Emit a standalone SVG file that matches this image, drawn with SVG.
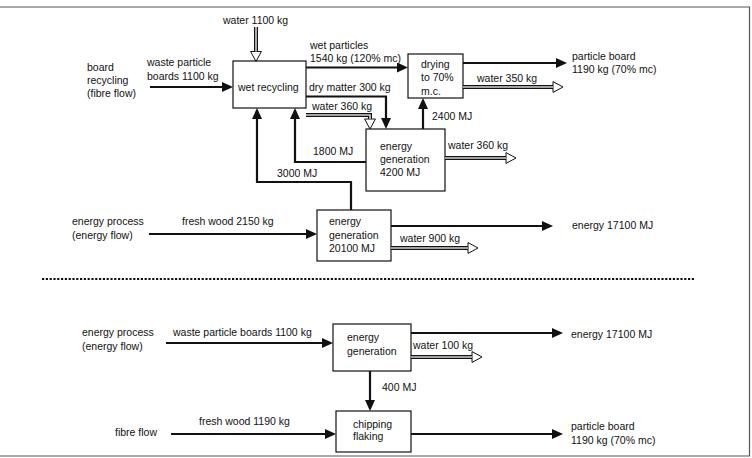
<svg xmlns="http://www.w3.org/2000/svg" width="752" height="458" viewBox="0 0 752 458">
<style>
text{font-family:"Liberation Sans",Arial,sans-serif;font-size:10.5px;fill:#111}
.box{fill:#fff;stroke:#111;stroke-width:1.2}
.flow{fill:none;stroke:#111;stroke-width:2.2;marker-end:url(#ah)}
.wout{fill:none;stroke:#111;stroke-width:4;marker-end:url(#hh)}
.win{fill:none;stroke:#d4d4d4;stroke-width:1.6}
.frame{fill:none;stroke:#555;stroke-width:1.2}
</style>
<defs>
<marker id="ah" markerUnits="userSpaceOnUse" viewBox="0 0 11 10" markerWidth="11" markerHeight="10" refX="8" refY="5" orient="auto"><path d="M0,0 L11,5 L0,10 z" fill="#111"/></marker>
<marker id="hh" markerUnits="userSpaceOnUse" viewBox="0 0 12 12" markerWidth="12" markerHeight="12" refX="1" refY="6" orient="auto"><path d="M1,0.6 L11,6 L1,11.4 z" fill="#fff" stroke="#111" stroke-width="1"/></marker>
</defs>
<rect width="752" height="458" fill="#fff"/>
<path class="frame" d="M0,7 H749.5 V456 H0"/>
<line x1="42" y1="279" x2="695" y2="279" stroke="#111" stroke-width="2" stroke-dasharray="2.2 1.6"/>

<g id="labels">
<text x="223" y="24">water 1100 kg</text>
<text x="87" y="71">board</text>
<text x="87" y="84">recycling</text>
<text x="87" y="97">(fibre flow)</text>
<text x="147" y="66">waste particle</text>
<text x="147" y="79.5">boards 1100 kg</text>
<text x="310" y="49">wet particles</text>
<text x="310" y="61.5">1540 kg (120% mc)</text>
<text x="309" y="90.5">dry matter 300 kg</text>
<text x="312" y="110">water 360 kg</text>
<text x="432" y="119.5">2400 MJ</text>
<text x="477" y="82">water 350 kg</text>
<text x="572" y="59.5">particle board</text>
<text x="572" y="73">1190 kg (70% mc)</text>
<text x="448" y="148.5">water 360 kg</text>
<text x="313" y="155">1800 MJ</text>
<text x="277" y="177">3000 MJ</text>
<text x="72" y="225">energy process</text>
<text x="72" y="238.5">(energy flow)</text>
<text x="182" y="225">fresh wood 2150 kg</text>
<text x="400" y="241.5">water 900 kg</text>
<text x="572" y="228.5">energy 17100 MJ</text>
<text x="82" y="336">energy process</text>
<text x="82" y="349.5">(energy flow)</text>
<text x="173" y="336">waste particle boards 1100 kg</text>
<text x="413" y="349">water 100 kg</text>
<text x="571" y="337.5">energy 17100 MJ</text>
<text x="382" y="390.5">400 MJ</text>
<text x="115" y="436">fibre flow</text>
<text x="199" y="425">fresh wood 1190 kg</text>
<text x="571" y="430">particle board</text>
<text x="571" y="443.5">1190 kg (70% mc)</text>
</g>

<g id="wet-recycling"><rect class="box" x="233" y="61" width="73" height="47"/><text x="238" y="91">wet recycling</text></g>
<g id="drying"><rect class="box" x="408" y="54" width="55" height="44"/><text x="421" y="68">drying</text><text x="421" y="81">to 70%</text><text x="421" y="94.5">m.c.</text></g>
<g id="energy-4200"><rect class="box" x="366" y="129" width="79" height="62"/><text x="380" y="150">energy</text><text x="380" y="163">generation</text><text x="380" y="176">4200 MJ</text></g>
<g id="energy-20100"><rect class="box" x="317" y="210" width="74" height="51"/><text x="329" y="225">energy</text><text x="329" y="238.5">generation</text><text x="329" y="252">20100 MJ</text></g>
<g id="energy-bottom"><rect class="box" x="333" y="324" width="78" height="47"/><text x="347" y="341">energy</text><text x="347" y="354.5">generation</text></g>
<g id="chipping"><rect class="box" x="336" y="411" width="75" height="41"/><text x="353" y="427.5">chipping</text><text x="353" y="440">flaking</text></g>

<g id="connectors">
<path class="flow" d="M150,87 H230"/>
<path class="flow" d="M306,67.5 H405"/>
<path class="flow" d="M306,96.5 H386 V126"/>
<path class="flow" d="M423,129 V101"/>
<path class="flow" d="M463,63 H564"/>
<path class="flow" d="M366,162 H295 V111"/>
<path class="flow" d="M351,210 V182 H257 V111"/>
<path class="flow" d="M149,234 H314"/>
<path class="flow" d="M391,226 H550"/>
<path class="flow" d="M166,343 H330"/>
<path class="flow" d="M411,333 H560"/>
<path class="flow" d="M370,371 V408"/>
<path class="flow" d="M171,434 H333"/>
<path class="flow" d="M411,434 H560"/>

<path class="wout" d="M256,27 V51.5"/><path class="win" d="M256,27 V51.5"/>
<path class="wout" d="M306,115 H370 V119"/><path class="win" d="M306,115 H370 V119"/>
<path class="wout" d="M463,87 H553"/><path class="win" d="M463,87 H553"/>
<path class="wout" d="M445,158 H506"/><path class="win" d="M445,158 H506"/>
<path class="wout" d="M391,248 H468"/><path class="win" d="M391,248 H468"/>
<path class="wout" d="M411,357 H472"/><path class="win" d="M411,357 H472"/>
</g>
</svg>
